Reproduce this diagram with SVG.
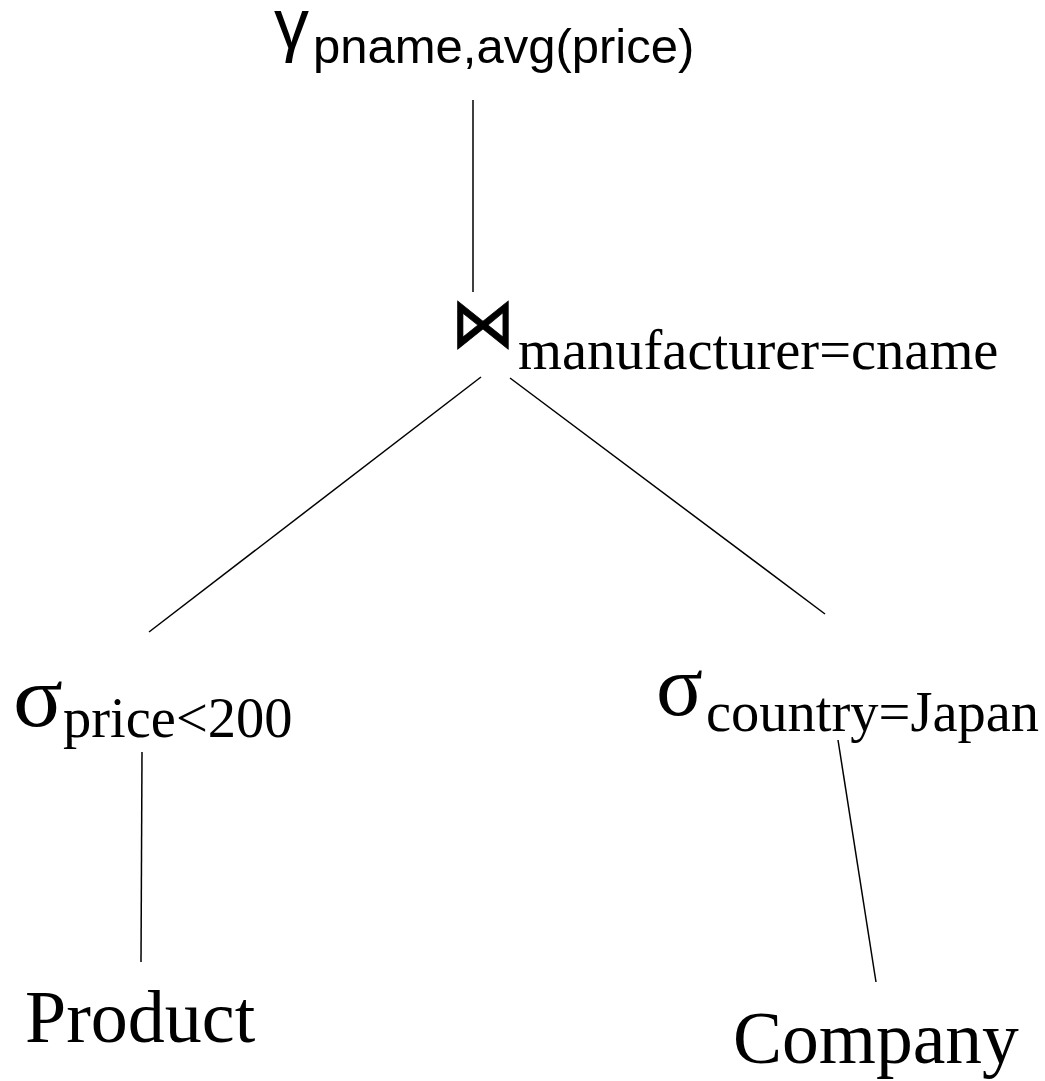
<svg xmlns="http://www.w3.org/2000/svg" width="1045" height="1081" viewBox="0 0 1045 1081">
<style>
.sans{font-family:"Liberation Sans",Arial,sans-serif;fill:#000}
.serif{font-family:"Liberation Serif","Times New Roman",serif;fill:#000}
.sym{font-family:"DejaVu Sans",sans-serif;fill:#000;stroke:#000;stroke-width:0.8}
.edge{stroke:#000;stroke-width:1.5;fill:none}
</style>
<rect width="1045" height="1081" fill="#fff"/>
<g id="connectors">
<line class="edge" x1="473" y1="100" x2="473" y2="292"/>
<line class="edge" x1="481" y1="377" x2="149" y2="632"/>
<line class="edge" x1="510" y1="378" x2="825" y2="614"/>
<line class="edge" x1="142" y1="752" x2="141" y2="962"/>
<line class="edge" x1="838" y1="740" x2="876" y2="982"/>
</g>
<g id="node-group">
<text class="sans" x="274" y="48" font-size="70">γ</text>
<text class="sans" x="313" y="63" font-size="49">pname,avg(price)</text>
</g>
<g id="node-join">
<text class="sym" x="451" y="347" font-size="70" textLength="64" lengthAdjust="spacingAndGlyphs">⋈</text>
<text class="serif" x="518" y="369" font-size="56.5">manufacturer=cname</text>
</g>
<g id="node-select-price">
<text class="serif" x="13" y="726" font-size="86" textLength="50" lengthAdjust="spacingAndGlyphs">σ</text>
<text class="serif" x="63" y="737" font-size="56.5">price&lt;200</text>
</g>
<g id="node-select-country">
<text class="serif" x="656" y="715" font-size="86" textLength="47" lengthAdjust="spacingAndGlyphs">σ</text>
<text class="serif" x="706" y="731" font-size="56.5">country=Japan</text>
</g>
<g id="node-product">
<text class="serif" x="25" y="1042" font-size="74">Product</text>
</g>
<g id="node-company">
<text class="serif" x="733" y="1063" font-size="73.5">Company</text>
</g>
</svg>
